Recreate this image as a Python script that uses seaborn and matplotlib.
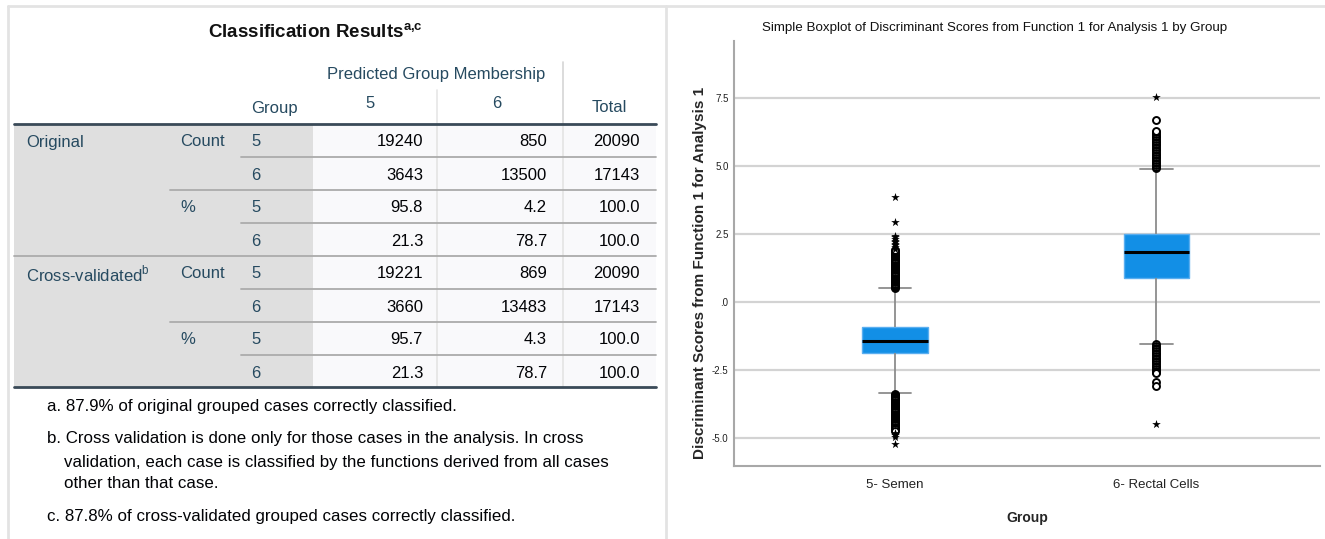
import pandas as pd
import numpy as np
import matplotlib
matplotlib.use("Agg")
import matplotlib.pyplot as plt
from matplotlib.patches import Rectangle
import seaborn as sns

# ---- table data (Classification Results) ----
main_rows = ["Original", "Cross-validated"]
sub_rows = ["Count", "%"]
group_codes = ["5", "6"]
pred_5 = [19240, 3643, 95.8, 21.3, 19221, 3660, 95.7, 21.3]
pred_6 = [850, 13500, 4.2, 78.7, 869, 13483, 4.3, 78.7]
total = [20090, 17143, 100.0, 100.0, 20090, 17143, 100.0, 100.0]
footnotes = [
    "a. 87.9% of original grouped cases correctly classified.",
    "b. Cross validation is done only for those cases in the analysis. In cross",
    "validation, each case is classified by the functions derived from all cases",
    "other than that case.",
    "c. 87.8% of cross-validated grouped cases correctly classified.",
]

# ---- boxplot data ----
groups = ["5- Semen", "6- Rectal Cells"]
whisker_low = [-3.35, -1.54]
q1 = [-1.88, 0.88]
median = [-1.43, 1.84]
q3 = [-0.92, 2.50]
whisker_high = [0.51, 4.89]

semen_out = [0.52, 0.56, 0.60, 0.64, 0.68, 0.72, 0.76, 0.80, 0.84, 0.88, 0.92, 0.96,
             1.00, 1.04, 1.08, 1.12, 1.16, 1.20, 1.24, 1.28, 1.32, 1.36, 1.40, 1.44,
             1.48, 1.52, 1.56, 1.60, 1.64, 1.68, 1.72, 1.76, 1.80, 1.84, 1.88, 1.92,
             -3.38, -3.42, -3.46, -3.50, -3.54, -3.58, -3.62, -3.66, -3.70, -3.74,
             -3.78, -3.82, -3.86, -3.90, -3.94, -3.98, -4.02, -4.06, -4.10, -4.14,
             -4.18, -4.22, -4.26, -4.30, -4.34, -4.38, -4.42, -4.46, -4.50, -4.54,
             -4.58, -4.62, -4.68, -4.74]
semen_ext = [1.96, 2.02, 2.08, 2.14, 2.20, 2.26, 2.32, 2.38, 2.44, 2.94, 3.86,
             -4.82, -4.90, -4.98, -5.22]
rectal_out = [4.92, 4.98, 5.04, 5.10, 5.16, 5.22, 5.28, 5.34, 5.40, 5.46, 5.52, 5.58,
              5.64, 5.70, 5.76, 5.82, 5.88, 5.94, 6.00, 6.06, 6.12, 6.18, 6.24, 6.29,
              6.69,
              -1.56, -1.62, -1.68, -1.74, -1.80, -1.86, -1.92, -1.98, -2.04, -2.10,
              -2.16, -2.22, -2.28, -2.34, -2.40, -2.46, -2.52, -2.58, -2.61,
              -2.94, -3.08]
rectal_ext = [7.54, -4.49]

y_ticks = [-5.0, -2.5, 0.0, 2.5, 5.0, 7.5]
y_tick_labels = ["-5.0", "-2.5", ".0", "2.5", "5.0", "7.5"]

sns.set_theme(style="white")
plt.rcParams["font.family"] = ["Liberation Sans", "DejaVu Sans"]
plt.rcParams["mathtext.fontset"] = "custom"
plt.rcParams["mathtext.rm"] = "Liberation Sans"
plt.rcParams["mathtext.bf"] = "Liberation Sans:bold"

W, H = 1325, 539
fig = plt.figure(figsize=(W / 100, H / 100), dpi=100)

# ---------------- left panel: table ----------------
lay = fig.add_axes([0, 0, 1, 1], zorder=-1)
lay.set_xlim(0, W)
lay.set_ylim(H, 0)
lay.axis("off")

frame = "#e3e3e3"
lay.plot([8, W], [6, 6], color=frame, lw=2)
lay.plot([8, 8], [6, H], color=frame, lw=2)
lay.plot([666, 666], [6, H], color=frame, lw=2)

head_c = "#264a60"
data_c = "#010205"
thin_c = "#ababab"
thick_c = "#3a4a58"

lay.text(315, 33, "Classification Results$^{\\mathbf{a{,}c}}$", ha="center", va="center",
         fontsize=13.5, fontweight="bold", color="#111111")

lay.add_patch(Rectangle((14, 124), 299, 263, color="#dfdfdf", lw=0))
lay.add_patch(Rectangle((313, 124), 343, 263, color="#f9f9fb", lw=0))

lay.text(436, 75, "Predicted Group Membership", ha="center", va="center", fontsize=12, color=head_c)
lay.plot([563, 563], [62, 124], color="#d6d6d6", lw=1.2)
lay.plot([437, 437], [90, 124], color="#e6e6e6", lw=1.2)
lay.text(251, 109, "Group", ha="left", va="center", fontsize=12, color=head_c)
lay.text(370, 104, group_codes[0], ha="center", va="center", fontsize=12, color=head_c)
lay.text(497, 104, group_codes[1], ha="center", va="center", fontsize=12, color=head_c)
lay.text(609, 107, "Total", ha="center", va="center", fontsize=12, color=head_c)

# vertical light lines in the data area
lay.plot([437, 437], [124, 387], color="#e4e4e4", lw=1.2)
lay.plot([563, 563], [124, 387], color="#e4e4e4", lw=1.2)

row_y0, row_h = 142, 33
for i in range(8):
    yc = row_y0 + i * row_h
    block, rest = divmod(i, 4)
    kind, g = divmod(rest, 2)
    if rest == 0:
        lab = main_rows[block] + ("$^{\\mathrm{b}}$" if block == 1 else "")
        lay.text(26, yc, lab, ha="left", va="center", fontsize=12, color=head_c)
    if g == 0:
        lay.text(180, yc, sub_rows[kind], ha="left", va="center", fontsize=12, color=head_c)
    lay.text(251, yc, group_codes[g], ha="left", va="center", fontsize=12, color=head_c)
    fmt = "{:.0f}" if kind == 0 else "{:.1f}"
    lay.text(423, yc, fmt.format(pred_5[i]), ha="right", va="center", fontsize=12, color=data_c)
    lay.text(547, yc, fmt.format(pred_6[i]), ha="right", va="center", fontsize=12, color=data_c)
    lay.text(640, yc, fmt.format(total[i]), ha="right", va="center", fontsize=12, color=data_c)
    # separator below the row
    if i < 7:
        ys = 124 + (i + 1) * row_h
        if i == 3:
            x0 = 14
        elif g == 0:
            x0 = 241
        else:
            x0 = 170
        lay.plot([x0, 656], [ys, ys], color=thin_c, lw=1.3)

lay.plot([14, 656], [124, 124], color=thick_c, lw=2)
lay.plot([14, 656], [387, 387], color=thick_c, lw=2)

foot_pos = [(47, 407), (47, 439), (64, 462), (64, 484), (47, 517)]
for txt, (fx, fy) in zip(footnotes, foot_pos):
    lay.text(fx, fy, txt, ha="left", va="center", fontsize=12.2, color=data_c)

# ---------------- right panel: boxplot ----------------
box_df = pd.DataFrame({
    "group": groups * 5,
    "score": whisker_low + q1 + median + q3 + whisker_high,
})
out_df = pd.DataFrame({
    "group": [groups[0]] * len(semen_out) + [groups[1]] * len(rectal_out),
    "score": semen_out + rectal_out,
})
ext_df = pd.DataFrame({
    "group": [groups[0]] * len(semen_ext) + [groups[1]] * len(rectal_ext),
    "score": semen_ext + rectal_ext,
})

ax = fig.add_axes([734 / W, 1 - 466 / H, (1320 - 734) / W, (466 - 41) / H])
sns.boxplot(data=box_df, x="group", y="score", order=groups, whis=(0, 100),
            width=0.25, color="#128fe6", saturation=1, linecolor="#8c8c8c",
            linewidth=1.3, showfliers=False,
            boxprops=dict(edgecolor="#5aaef0", linewidth=1),
            medianprops=dict(color="black", linewidth=2.2), ax=ax)
sns.stripplot(data=out_df, x="group", y="score", order=groups, jitter=False,
              marker="o", color="white", edgecolor="black", linewidth=1.4,
              size=5, zorder=3, ax=ax)
sns.stripplot(data=ext_df, x="group", y="score", order=groups, jitter=False,
              marker="*", color="black", size=6.5, linewidth=0, zorder=3, ax=ax)

ax.set_xlim(-0.615, 1.625)
ax.set_ylim(-6.03, 9.60)
ax.set_yticks(y_ticks)
ax.set_yticklabels(y_tick_labels, fontsize=7, color="#222222")
ax.tick_params(axis="x", labelsize=9.5, colors="#222222", length=0, pad=9)
ax.tick_params(axis="y", length=0, pad=4)
ax.grid(axis="y", color="#d3d3d3", linewidth=1.6)
ax.set_axisbelow(True)
for s in ["top", "right"]:
    ax.spines[s].set_visible(False)
for s in ["left", "bottom"]:
    ax.spines[s].set_color("#a8a8a8")
    ax.spines[s].set_linewidth(1.5)
ax.set_xlabel("Group", fontsize=10, fontweight="bold", labelpad=15)
ax.set_ylabel("Discriminant Scores from Function 1 for Analysis 1", fontsize=11,
              fontweight="bold")
ax.yaxis.set_label_coords(-0.046, 0.454)

fig.text(995 / W, 1 - 28 / H,
         "Simple Boxplot of Discriminant Scores from Function 1 for Analysis 1 by Group",
         ha="center", va="center", fontsize=9.6, color="#111111")

fig.savefig("out.png", dpi=100)
